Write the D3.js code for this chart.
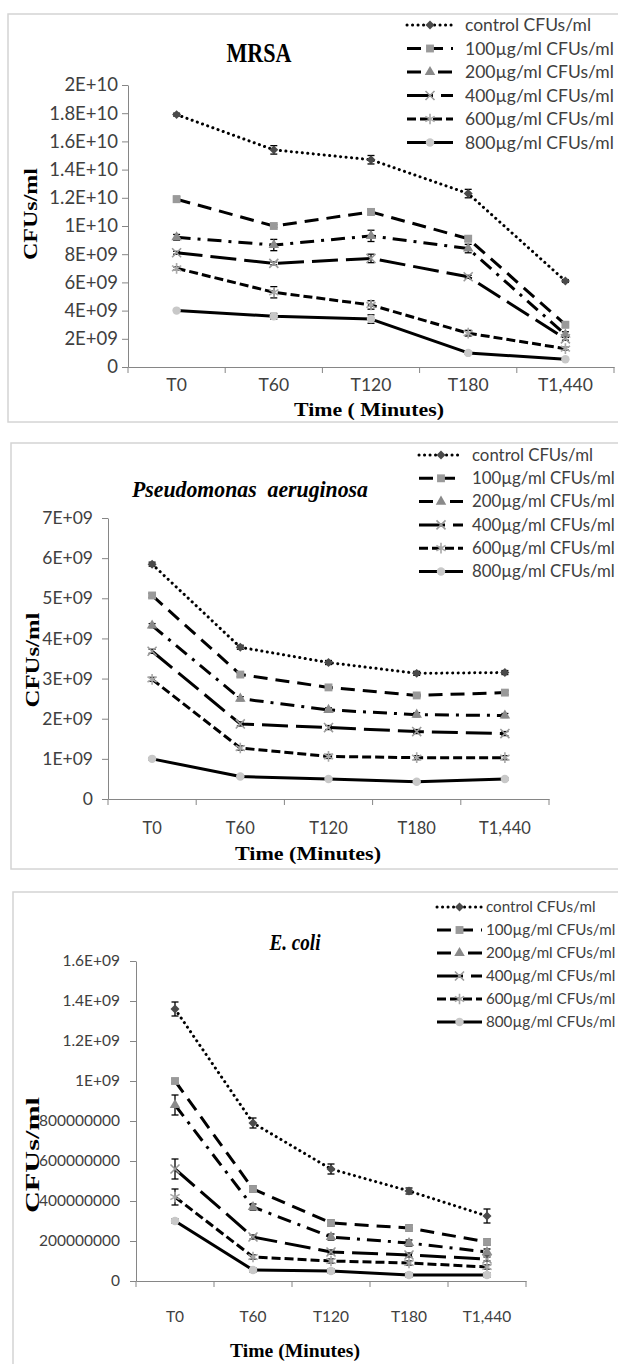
<!DOCTYPE html>
<html>
<head>
<meta charset="utf-8">
<script src="https://cdn.jsdelivr.net/npm/d3@7"></script>
<style>
  body { margin: 0; background: #fff; }
  svg { display: block; }
</style>
</head>
<body>
<svg id="fig" width="618" height="1364"></svg>
<script>
// ---- categories and legend labels ----
const times = ["T0", "T60", "T120", "T180", "T1,440"];
const seriesLabels = ["control CFUs/ml", "100µg/ml CFUs/ml", "200µg/ml CFUs/ml",
                      "400µg/ml CFUs/ml", "600µg/ml CFUs/ml", "800µg/ml CFUs/ml"];

// ---- MRSA (CFUs/ml) ----
const mrsaControl = [1.79e10, 1.54e10, 1.47e10, 1.23e10, 6.1e9];
const mrsa100     = [1.19e10, 1.0e10, 1.1e10, 9.1e9, 3.0e9];
const mrsa200     = [9.2e9, 8.65e9, 9.3e9, 8.4e9, 2.3e9];
const mrsa400     = [8.1e9, 7.35e9, 7.7e9, 6.4e9, 2.0e9];
const mrsa600     = [7.0e9, 5.3e9, 4.4e9, 2.4e9, 1.3e9];
const mrsa800     = [4.0e9, 3.6e9, 3.4e9, 1.0e9, 5.5e8];
const mrsaControlErr = [1e8, 3e8, 3e8, 3e8, 1e8];
const mrsa100Err     = [2e8, 1e8, 2e8, 2e8, 2e8];
const mrsa200Err     = [2e8, 4e8, 4e8, 3e8, 2e8];
const mrsa400Err     = [1e8, 1e8, 3e8, 1e8, 1e8];
const mrsa600Err     = [1e8, 4e8, 3e8, 2e8, 1e8];
const mrsa800Err     = [5e7, 2e8, 3e8, 1e8, 5e7];
const mrsaTickValues = [0, 2e9, 4e9, 6e9, 8e9, 1e10, 1.2e10, 1.4e10, 1.6e10, 1.8e10, 2e10];
const mrsaTickLabels = ["0", "2E+09", "4E+09", "6E+09", "8E+09", "1E+10",
                        "1.2E+10", "1.4E+10", "1.6E+10", "1.8E+10", "2E+10"];

// ---- Pseudomonas aeruginosa (CFUs/ml) ----
const pseudoControl = [5.85e9, 3.78e9, 3.4e9, 3.13e9, 3.15e9];
const pseudo100     = [5.07e9, 3.1e9, 2.78e9, 2.58e9, 2.65e9];
const pseudo200     = [4.32e9, 2.5e9, 2.22e9, 2.1e9, 2.08e9];
const pseudo400     = [3.68e9, 1.87e9, 1.78e9, 1.68e9, 1.63e9];
const pseudo600     = [2.98e9, 1.27e9, 1.06e9, 1.03e9, 1.03e9];
const pseudo800     = [1.0e9, 5.6e8, 5.0e8, 4.3e8, 5.0e8];
const pseudoControlErr = [5e7, 5e7, 5e7, 5e7, 5e7];
const pseudo100Err     = [5e7, 5e7, 5e7, 5e7, 5e7];
const pseudo200Err     = [5e7, 5e7, 5e7, 5e7, 5e7];
const pseudo400Err     = [5e7, 5e7, 5e7, 5e7, 5e7];
const pseudo600Err     = [5e7, 5e7, 5e7, 5e7, 5e7];
const pseudo800Err     = [3e7, 3e7, 3e7, 3e7, 3e7];
const pseudoTickValues = [0, 1e9, 2e9, 3e9, 4e9, 5e9, 6e9, 7e9];
const pseudoTickLabels = ["0", "1E+09", "2E+09", "3E+09", "4E+09", "5E+09", "6E+09", "7E+09"];

// ---- E. coli (CFUs/ml) ----
const ecoliControl = [1.36e9, 7.9e8, 5.6e8, 4.5e8, 3.25e8];
const ecoli100     = [1.0e9, 4.6e8, 2.9e8, 2.65e8, 1.95e8];
const ecoli200     = [8.8e8, 3.7e8, 2.2e8, 1.9e8, 1.45e8];
const ecoli400     = [5.6e8, 2.2e8, 1.45e8, 1.3e8, 1.1e8];
const ecoli600     = [4.2e8, 1.2e8, 1.0e8, 9e7, 7e7];
const ecoli800     = [3.0e8, 5.5e7, 5e7, 3e7, 3e7];
const ecoliControlErr = [3.5e7, 2.5e7, 2.5e7, 1.5e7, 3.5e7];
const ecoli100Err     = [1e7, 1.5e7, 1.5e7, 1.5e7, 1.5e7];
const ecoli200Err     = [5e7, 1.5e7, 1.5e7, 1.5e7, 1.5e7];
const ecoli400Err     = [5e7, 1e7, 1e7, 1e7, 1e7];
const ecoli600Err     = [4e7, 1e7, 1e7, 1e7, 1e7];
const ecoli800Err     = [1e7, 1e7, 1e7, 1e7, 1e7];
const ecoliTickValues = [0, 2e8, 4e8, 6e8, 8e8, 1e9, 1.2e9, 1.4e9, 1.6e9];
const ecoliTickLabels = ["0", "200000000", "400000000", "600000000", "800000000",
                         "1E+09", "1.2E+09", "1.4E+09", "1.6E+09"];

// ---- drawing ----
const SANS = "Lato, 'Liberation Sans', Arial, sans-serif";
const SERIF = "'Liberation Serif', 'Times New Roman', serif";
const AXIS = "#868686";
const INK = "#404040";

// line dash / marker look of each series
const looks = [
  { dash: "0.1,5.4", cap: "round", sym: "diamond",  fill: "#4a4a4a" },
  { dash: "14,8",    cap: "butt",  sym: "square",   fill: "#9a9a9a" },
  { dash: "14,7,3,7",cap: "butt",  sym: "triangle", fill: "#8a8a8a" },
  { dash: "26,8",    cap: "butt",  sym: "x",        stroke: "#9a9a9a" },
  { dash: "9,4",     cap: "butt",  sym: "asterisk", stroke: "#a8a8a8" },
  { dash: null,      cap: "butt",  sym: "circle",   fill: "#c8c8c8" }
];

const svg = d3.select("#fig");

function marker(g, look, cx, cy) {
  const t = `translate(${cx},${cy})`;
  switch (look.sym) {
    case "diamond":
      g.append("path").attr("d", d3.symbol(d3.symbolSquare, 40)())
        .attr("transform", t + " rotate(45)").attr("fill", look.fill);
      break;
    case "square":
      g.append("path").attr("d", d3.symbol(d3.symbolSquare, 62)())
        .attr("transform", t).attr("fill", look.fill);
      break;
    case "triangle":
      g.append("path").attr("d", d3.symbol(d3.symbolTriangle, 48)())
        .attr("transform", t).attr("fill", look.fill);
      break;
    case "x":
      g.append("path").attr("d", d3.symbol(d3.symbolX, 55)())
        .attr("transform", t).attr("fill", "none")
        .attr("stroke", look.stroke).attr("stroke-width", 1.6);
      break;
    case "asterisk":
      g.append("path").attr("d", d3.symbol(d3.symbolAsterisk, 80)())
        .attr("transform", t).attr("fill", "none")
        .attr("stroke", look.stroke).attr("stroke-width", 1.6);
      break;
    case "circle":
      g.append("path").attr("d", d3.symbol(d3.symbolCircle, 56)())
        .attr("transform", t).attr("fill", look.fill);
      break;
  }
}

function stretchedText(g, str, x, y, opts) {
  const t = g.append("text")
    .attr("x", x).attr("y", y)
    .attr("text-anchor", "middle")
    .attr("font-family", SERIF)
    .attr("font-weight", "bold")
    .attr("font-style", opts.italic ? "italic" : "normal")
    .attr("font-size", opts.size)
    .attr("fill", "#000")
    .text(str);
  if (opts.len) t.attr("textLength", opts.len).attr("lengthAdjust", "spacingAndGlyphs");
  if (opts.rotate) t.attr("transform", `rotate(-90,${x},${y})`).attr("dominant-baseline", "central");
  return t;
}

function panel(cfg) {
  const g = svg.append("g");

  // chart frame
  g.append("rect")
    .attr("x", cfg.frame[0]).attr("y", cfg.frame[1])
    .attr("width", cfg.frame[2]).attr("height", cfg.frame[3])
    .attr("fill", "none").attr("stroke", "#d4d4d4").attr("stroke-width", 1.5);

  const x = d3.scaleBand().domain(times).range([cfg.x0, cfg.x1]).paddingInner(0).paddingOuter(0);
  const y = d3.scaleLinear().domain([0, d3.max(cfg.tickValues)]).range([cfg.yZero, cfg.yTop]);
  const cx = t => x(t) + x.bandwidth() / 2;

  // y axis
  const ya = g.append("g").attr("transform", `translate(${cfg.x0},0)`)
    .call(d3.axisLeft(y).tickValues(cfg.tickValues)
      .tickFormat((d, i) => cfg.tickLabels[i])
      .tickSize(6).tickSizeOuter(0).tickPadding(cfg.yPad));
  ya.select(".domain").attr("stroke", AXIS);
  ya.selectAll(".tick line").attr("stroke", AXIS);
  ya.selectAll(".tick text").attr("font-family", SANS).attr("font-size", cfg.yFont)
    .attr("fill", INK);

  // x axis: labels centred in each band, ticks on band boundaries
  const xa = g.append("g").attr("transform", `translate(0,${cfg.yZero})`)
    .call(d3.axisBottom(x).tickSize(0).tickSizeOuter(0));
  xa.select(".domain").attr("stroke", AXIS);
  xa.selectAll(".tick text").attr("font-family", SANS).attr("font-size", cfg.xFont)
    .attr("fill", INK).attr("y", cfg.xLabelDy).attr("dy", "0.35em");
  const bounds = d3.range(times.length + 1).map(i => cfg.x0 + i * x.step());
  xa.selectAll(".bound").data(bounds).join("line").attr("class", "bound")
    .attr("x1", d => d).attr("x2", d => d).attr("y1", 0).attr("y2", 6)
    .attr("stroke", AXIS);

  // series
  const line = d3.line().x((d, i) => cx(times[i])).y(d => y(d));
  cfg.series.forEach((vals, si) => {
    const look = looks[si];
    const sg = g.append("g");
    sg.append("path").datum(vals).attr("d", line)
      .attr("fill", "none").attr("stroke", "#000").attr("stroke-width", 3)
      .attr("stroke-dasharray", look.dash).attr("stroke-linecap", look.cap)
      .attr("stroke-linejoin", "round");
    const errs = cfg.errors[si];
    vals.forEach((v, i) => {
      const px = cx(times[i]);
      const e = errs[i];
      if (e > 0) {
        const y1 = y(v + e), y2 = y(Math.max(0, v - e));
        sg.append("line").attr("x1", px).attr("x2", px).attr("y1", y1).attr("y2", y2)
          .attr("stroke", "#000").attr("stroke-width", 1.3);
        [y1, y2].forEach(yy => sg.append("line")
          .attr("x1", px - 3.5).attr("x2", px + 3.5).attr("y1", yy).attr("y2", yy)
          .attr("stroke", "#000").attr("stroke-width", 1.3));
      }
    });
    vals.forEach((v, i) => marker(sg, look, cx(times[i]), y(v)));
  });

  // legend
  const lg = g.append("g");
  seriesLabels.forEach((lab, i) => {
    const ry = cfg.legY + i * cfg.legStep;
    const look = looks[i];
    lg.append("line").attr("x1", cfg.legX0).attr("x2", cfg.legX1).attr("y1", ry).attr("y2", ry)
      .attr("stroke", "#000").attr("stroke-width", 3)
      .attr("stroke-dasharray", look.dash).attr("stroke-linecap", look.cap);
    marker(lg, look, (cfg.legX0 + cfg.legX1) / 2, ry);
    lg.append("text").attr("x", cfg.legText).attr("y", ry).attr("dy", "0.35em")
      .attr("font-family", SANS).attr("font-size", cfg.legFont).attr("fill", INK)
      .text(lab);
  });

  // titles
  stretchedText(g, cfg.title, cfg.titleX, cfg.titleY,
    { size: cfg.titleSize, italic: cfg.italic, len: cfg.titleLen });
  stretchedText(g, "CFUs/ml", cfg.yTitleX, cfg.yTitleY,
    { size: 19, rotate: true, len: cfg.yTitleLen });
  stretchedText(g, cfg.xTitle, cfg.xTitleX, cfg.xTitleY,
    { size: 19, len: cfg.xTitleLen });
}

panel({
  frame: [8, 14, 700, 408],
  x0: 128, x1: 614, yZero: 367, yTop: 85,
  tickValues: mrsaTickValues, tickLabels: mrsaTickLabels,
  yPad: 4, yFont: 18.5, xFont: 17.5, xLabelDy: 18,
  series: [mrsaControl, mrsa100, mrsa200, mrsa400, mrsa600, mrsa800],
  errors: [mrsaControlErr, mrsa100Err, mrsa200Err, mrsa400Err, mrsa600Err, mrsa800Err],
  legX0: 407, legX1: 453, legText: 465, legY: 25, legStep: 23.5, legFont: 17.5,
  title: "MRSA", titleX: 259, titleY: 62, titleSize: 27, titleLen: 65, italic: false,
  yTitleX: 30, yTitleY: 214, yTitleLen: 92,
  xTitle: "Time ( Minutes)", xTitleX: 369, xTitleY: 416, xTitleLen: 150
});

panel({
  frame: [11, 443, 700, 426],
  x0: 108, x1: 549, yZero: 799, yTop: 518,
  tickValues: pseudoTickValues, tickLabels: pseudoTickLabels,
  yPad: 9, yFont: 17.5, xFont: 16.5, xLabelDy: 29,
  series: [pseudoControl, pseudo100, pseudo200, pseudo400, pseudo600, pseudo800],
  errors: [pseudoControlErr, pseudo100Err, pseudo200Err, pseudo400Err, pseudo600Err, pseudo800Err],
  legX0: 419, legX1: 463, legText: 472, legY: 455, legStep: 23.3, legFont: 16.8,
  title: "Pseudomonas\u00a0\u00a0aeruginosa", titleX: 250, titleY: 497, titleSize: 22.5, titleLen: 236, italic: true,
  yTitleX: 32, yTitleY: 660, yTitleLen: 95,
  xTitle: "Time (Minutes)", xTitleX: 308, xTitleY: 860, xTitleLen: 146
});

panel({
  frame: [13, 892, 700, 600],
  x0: 136, x1: 526, yZero: 1281, yTop: 961,
  tickValues: ecoliTickValues, tickLabels: ecoliTickLabels,
  yPad: 10, yFont: 15.5, xFont: 15.5, xLabelDy: 36,
  series: [ecoliControl, ecoli100, ecoli200, ecoli400, ecoli600, ecoli800],
  errors: [ecoliControlErr, ecoli100Err, ecoli200Err, ecoli400Err, ecoli600Err, ecoli800Err],
  legX0: 437, legX1: 482, legText: 486, legY: 907, legStep: 23, legFont: 15.2,
  title: "E. coli", titleX: 295, titleY: 950, titleSize: 22.5, titleLen: 51, italic: true,
  yTitleX: 32, yTitleY: 1155, yTitleLen: 116,
  xTitle: "Time (Minutes)", xTitleX: 295, xTitleY: 1357, xTitleLen: 130
});
</script>
</body>
</html>
